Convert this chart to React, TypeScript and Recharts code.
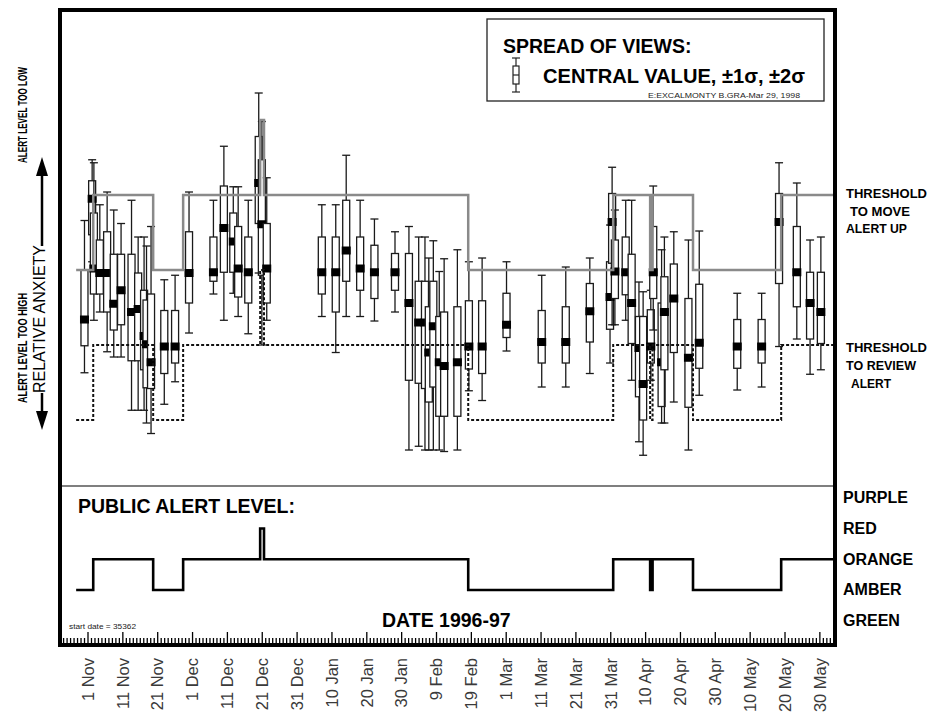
import React from "react";
import { ComposedChart, Bar, Line, XAxis, YAxis, ReferenceLine } from "recharts";

const FONT = "'Liberation Sans', Arial, Helvetica, sans-serif";

// spread of views, day counted from 1 Nov 1996 (anxiety units: 10 per alert level)
const BOX_DAY = [
  -1, 1.2, 1.7, 3.4, 5.5, 7.4, 9.5, 12.5, 14.4, 16.1, 16.8, 18.1, 21.9, 25, 29, 36,
  39, 41.7, 43.1, 46, 49, 49.9, 51.3, 67.1, 71.1, 74.1, 78.1, 82.2, 88.1, 92.1, 94.9,
  96.7, 97.8, 99.1, 100.8, 102.2, 106, 109.3, 113.1, 120.1, 130.2, 137.1, 144, 149.8,
  150.4, 151.2, 154.3, 156, 158.1, 159.3, 161.5, 162.2, 164.6, 165.4, 168.1, 172.3,
  175.4, 186.3, 193.3, 198.3, 203.4, 207.2, 210.3,
];
const BOX_LOW2 = [
  16.3, 31.1, 23.3, 24.4, 19.1, 18.4, 18.4, 11.3, 11.3, 11.3, 9.6, 8.2, 12.1, 15.1, 21.6, 26.8,
  23.3, 26.9, 23.8, 21.5, 29.6, 20, 23.3, 23.8, 19, 23.8, 23.8, 23.2, 24.4, 6, 6.5,
  6, 6, 6, 6, 5.8, 6, 13.9, 12.6, 19.2, 14.4, 14.4, 16.2, 17.6,
  22.7, 22.7, 23.3, 15.3, 7.1, 5.3, 15.3, 22, 9.6, 9.6, 12.4, 6,
  13.3, 14, 14.4, 19.8, 20.8, 16.1, 16.7,
];
const BOX_LOW1 = [
  19.9, 34.7, 26.8, 26.8, 24.4, 22, 22.7, 17.9, 17.9, 16.7, 14.3, 14.2, 16.2, 17.6, 25.6, 28.5,
  29.7, 29.7, 26.4, 25.6, 36.2, 29.3, 25.6, 26.8, 24.4, 28.5, 27.3, 26.2, 27.3, 15.3, 14.9,
  14.2, 12.4, 14.4, 10.5, 10.5, 10.5, 16.8, 16.2, 21, 17.6, 17.6, 20.4, 22.1,
  30.9, 26.2, 26.7, 20.2, 13.1, 10, 17.6, 26.2, 11.8, 16.7, 19, 11.7,
  16.9, 16.9, 17.6, 28.2, 25.1, 20.8, 20.2,
];
const BOX_MID = [
  23.4, 39.5, 30.2, 29.6, 29.6, 25.5, 27.3, 24.4, 24.8, 21.2, 20.1, 17.7, 19.8, 19.8, 29.6, 29.7,
  35.6, 33.8, 30.2, 29.7, 41.6, 36.1, 30.2, 29.7, 29.7, 32.6, 30.2, 29.7, 29.7, 25.6, 23,
  23, 19, 22.5, 17.7, 17.2, 17.7, 19.8, 19.8, 22.7, 20.4, 20.4, 24.5, 26.4,
  36.4, 29.8, 29.7, 25.6, 19.6, 14.8, 19.8, 29.7, 17.7, 24.4, 26.2, 18.3,
  20.3, 19.8, 19.8, 36.4, 29.7, 25.6, 24.4,
];
const BOX_HIGH1 = [
  30, 41.9, 37.6, 34, 35.1, 32.1, 32.1, 32.1, 29.6, 27.3, 26, 26.8, 24.6, 24.6, 35.1, 34.4,
  41.2, 37.6, 35.8, 34.4, 47.8, 44.7, 36.2, 34.4, 34.4, 39.3, 34.4, 33.3, 32.2, 32.2, 28.5,
  28.5, 25.1, 28.5, 23.8, 24.4, 25.1, 25.9, 25.9, 26.9, 24.6, 25.1, 28.2, 31.1,
  40.2, 34, 34.4, 32.1, 23.8, 23.8, 24.7, 35.8, 25.6, 29.1, 30.8, 26.2,
  28.1, 23.4, 23.4, 40.2, 35.8, 29.7, 29.7,
];
const BOX_HIGH2 = [
  36.6, 44.7, 44.3, 38.7, 40.4, 38, 36.2, 39.3, 34.4, 34.4, 33.2, 35.8, 28.7, 29.3, 40.4, 39.3,
  46.5, 41.1, 41.1, 39.3, 53.6, 49.8, 42.3, 38.7, 38.7, 45.3, 39.3, 36.8, 35.1, 35.8, 34.4,
  34.4, 31.6, 33.9, 29.8, 31.5, 32.7, 31.1, 31.6, 31.1, 29.3, 30.4, 31.6, 36,
  43.7, 38, 39.3, 39.3, 28.4, 27.1, 27.3, 41.2, 32.7, 34.4, 35.1, 34,
  35.2, 26.9, 26.9, 44.3, 41.6, 34, 34.4,
];

// public alert level (0 green .. 4 purple) and the two thresholds that follow it
const ALERT_DAY = [-3.4, 1.5, 18.7, 27.3, 49.4, 50.5, 109.1, 150.7, 161.3, 162, 173.6, 198.9, 213.8];
const ALERT_LEVEL = [1, 2, 1, 2, 3, 2, 1, 2, 1, 2, 1, 2, 2];
const MOVE_UP = [30, 40, 30, 40, 50, 40, 30, 40, 30, 40, 30, 40, 40];
const REVIEW = [10, 20, 10, 20, 30, 20, 10, 20, 10, 20, 10, 20, 20];

const LEVEL_NAMES = ["GREEN", "AMBER", "ORANGE", "RED", "PURPLE"];
const LABEL_DAYS = [0, 10, 20, 30, 40, 50, 60, 70, 80, 90, 100, 110, 120, 130, 140, 150, 160, 170, 180, 190, 200, 210];
const DATE_LABELS = [
  "1 Nov", "11 Nov", "21 Nov", "1 Dec", "11 Dec", "21 Dec", "31 Dec", "10 Jan", "20 Jan", "30 Jan", "9 Feb",
  "19 Feb", "1 Mar", "11 Mar", "21 Mar", "31 Mar", "10 Apr", "20 Apr", "30 Apr", "10 May", "20 May", "30 May",
];

const boxes = BOX_DAY.map((day, i) => ({
  day,
  low2: BOX_LOW2[i],
  low1: BOX_LOW1[i],
  mid: BOX_MID[i],
  high1: BOX_HIGH1[i],
  high2: BOX_HIGH2[i],
}));
const alertData = ALERT_DAY.map((day, i) => ({ day, level: ALERT_LEVEL[i], up: MOVE_UP[i], review: REVIEW[i] }));
const tickDays = Array.from({ length: 221 }, (_, i) => i - 7);

function BoxShape(props: any) {
  const { x, y, width, height, payload } = props;
  if (!payload || height == null) return null;
  const top = Math.min(y, y + height);
  const k = Math.abs(height) / (payload.high2 - payload.low2);
  const py = (v: number) => top + (payload.high2 - v) * k;
  const cx = x + width / 2;
  return (
    <g stroke="#1a1a1a" strokeWidth={1.3}>
      <line x1={cx} x2={cx} y1={py(payload.high2)} y2={py(payload.low2)} />
      <line x1={cx - 4} x2={cx + 4} y1={py(payload.high2)} y2={py(payload.high2)} />
      <line x1={cx - 4} x2={cx + 4} y1={py(payload.low2)} y2={py(payload.low2)} />
      <rect x={cx - 3.5} y={py(payload.high1)} width={7} height={py(payload.low1) - py(payload.high1)} fill="#fff" />
      <rect x={cx - 4.5} y={py(payload.mid) - 4} width={9} height={8} fill="#000" stroke="none" />
    </g>
  );
}

function DayTick(props: any) {
  const { x, y, payload } = props;
  const idx = LABEL_DAYS.indexOf(payload.value);
  return (
    <g>
      <line x1={x} x2={x} y1={y} y2={y - (idx >= 0 ? 11 : 5)} stroke="#000" strokeWidth={1.3} />
      {idx >= 0 && (
        <text
          transform={`translate(${x}, ${y + 15}) rotate(-90)`}
          textAnchor="end"
          dy="0.35em"
          fontFamily={FONT}
          fontSize={16.5}
          fill="#3a3a3a"
        >
          {DATE_LABELS[idx]}
        </text>
      )}
    </g>
  );
}

function LevelTick(props: any) {
  const { x, y, payload } = props;
  return (
    <text x={x + 10} y={y} dominantBaseline="central" fontFamily={FONT} fontWeight="bold" fontSize={16} fill="#000">
      {LEVEL_NAMES[payload.value]}
    </text>
  );
}

function Decorations() {
  const bold = { fontFamily: FONT, fontWeight: "bold" as const, fill: "#000" };
  return (
    <svg width={927} height={713} style={{ position: "absolute", left: 0, top: 0, pointerEvents: "none" }}>
      <rect x={60} y={10} width={775} height={635} fill="none" stroke="#000" strokeWidth={4} />

      {/* legend */}
      <rect x={487} y={19} width={337} height={82} fill="#fff" stroke="#222" strokeWidth={1.3} />
      <text x={503} y={53} fontSize={19.5} {...bold}>SPREAD OF VIEWS:</text>
      <g stroke="#222" strokeWidth={1.2}>
        <line x1={516} x2={516} y1={58} y2={92} />
        <line x1={512} x2={520} y1={58} y2={58} />
        <line x1={512} x2={520} y1={92} y2={92} />
        <rect x={513} y={66} width={6} height={18} fill="#fff" />
        <line x1={513} x2={519} y1={75} y2={75} />
      </g>
      <text x={543} y={83} fontSize={19.5} textLength={262} lengthAdjust="spacingAndGlyphs" {...bold}>
        CENTRAL VALUE, ±1σ, ±2σ
      </text>
      <text x={648} y={98} fontSize={8} textLength={152} lengthAdjust="spacingAndGlyphs" fontFamily={FONT} fill="#222">
        E:EXCALMONTY B.GRA-Mar 29, 1998
      </text>

      {/* lower panel */}
      <text x={78} y={513} fontSize={19.5} {...bold}>PUBLIC ALERT LEVEL:</text>
      <text x={382} y={627} fontSize={19.5} {...bold}>DATE 1996-97</text>
      <text x={69} y={629} fontSize={8} textLength={67} lengthAdjust="spacingAndGlyphs" fontFamily={FONT} fill="#222">
        start date = 35362
      </text>

      {/* right notes */}
      <g fontSize={13} {...bold}>
        <text x={846} y={198} textLength={81} lengthAdjust="spacingAndGlyphs">THRESHOLD</text>
        <text x={850} y={216} textLength={60} lengthAdjust="spacingAndGlyphs">TO MOVE</text>
        <text x={846} y={233} textLength={61} lengthAdjust="spacingAndGlyphs">ALERT UP</text>
        <text x={846} y={352} textLength={81} lengthAdjust="spacingAndGlyphs">THRESHOLD</text>
        <text x={846} y={370} textLength={70} lengthAdjust="spacingAndGlyphs">TO REVIEW</text>
        <text x={851} y={388} textLength={40} lengthAdjust="spacingAndGlyphs">ALERT</text>
      </g>

      {/* left axis titles */}
      <text transform="translate(22.5,115) rotate(-90)" textAnchor="middle" dominantBaseline="central"
        fontSize={13.5} textLength={96} lengthAdjust="spacingAndGlyphs" {...bold}>ALERT LEVEL TOO LOW</text>
      <text transform="translate(22.5,348) rotate(-90)" textAnchor="middle" dominantBaseline="central"
        fontSize={13.5} textLength={110} lengthAdjust="spacingAndGlyphs" {...bold}>ALERT LEVEL TOO HIGH</text>
      <text transform="translate(39,319) rotate(-90)" textAnchor="middle" dominantBaseline="central"
        fontSize={17} textLength={148} lengthAdjust="spacingAndGlyphs" fontFamily={FONT} fill="#000">RELATIVE ANXIETY</text>
      <g stroke="#000" strokeWidth={2.5} fill="#000">
        <line x1={42} x2={42} y1={170} y2={246} />
        <line x1={42} x2={42} y1={393} y2={416} />
        <polygon points="42,157 36,176 48,176" stroke="none" />
        <polygon points="42,430 36,411 48,411" stroke="none" />
      </g>
    </svg>
  );
}

export default function App() {
  return (
    <div style={{ position: "absolute", left: 0, top: 0, width: 927, height: 713, background: "#fff" }}>
      <ComposedChart width={927} height={713} data={boxes} margin={{ top: 12, right: 0, bottom: 0, left: 62 }}>
        <XAxis
          type="number"
          dataKey="day"
          domain={[-7.46, 213.77]}
          allowDataOverflow
          ticks={tickDays}
          interval={0}
          tick={(p: any) => <DayTick {...p} />}
          tickLine={false}
          axisLine={false}
          tickSize={0}
          tickMargin={0}
          height={70}
        />
        <YAxis yAxisId="a" type="number" domain={[-19.73, 64.4]} allowDataOverflow hide />
        <YAxis
          yAxisId="lvl"
          orientation="right"
          type="number"
          domain={[-0.724, 19.797]}
          allowDataOverflow
          ticks={[0, 1, 2, 3, 4]}
          interval={0}
          tick={(p: any) => <LevelTick {...p} />}
          tickLine={false}
          axisLine={false}
          tickSize={0}
          tickMargin={0}
          width={94}
        />
        <ReferenceLine yAxisId="a" y={1.2} stroke="#000" strokeWidth={1.2} />
        <Bar
          yAxisId="a"
          dataKey={(e: any) => [e.low2, e.high2]}
          barSize={8}
          shape={(p: any) => <BoxShape {...p} />}
          isAnimationActive={false}
        />
        <Line
          yAxisId="a"
          data={alertData}
          dataKey="up"
          type="stepAfter"
          stroke="#8a8a8a"
          strokeWidth={2.5}
          dot={false}
          isAnimationActive={false}
        />
        <Line
          yAxisId="a"
          data={alertData}
          dataKey="review"
          type="stepAfter"
          stroke="#111"
          strokeWidth={2}
          strokeDasharray="3 2"
          dot={false}
          isAnimationActive={false}
        />
        <Line
          yAxisId="lvl"
          data={alertData}
          dataKey="level"
          type="stepAfter"
          stroke="#000"
          strokeWidth={2.6}
          dot={false}
          isAnimationActive={false}
        />
      </ComposedChart>
      <Decorations />
    </div>
  );
}
